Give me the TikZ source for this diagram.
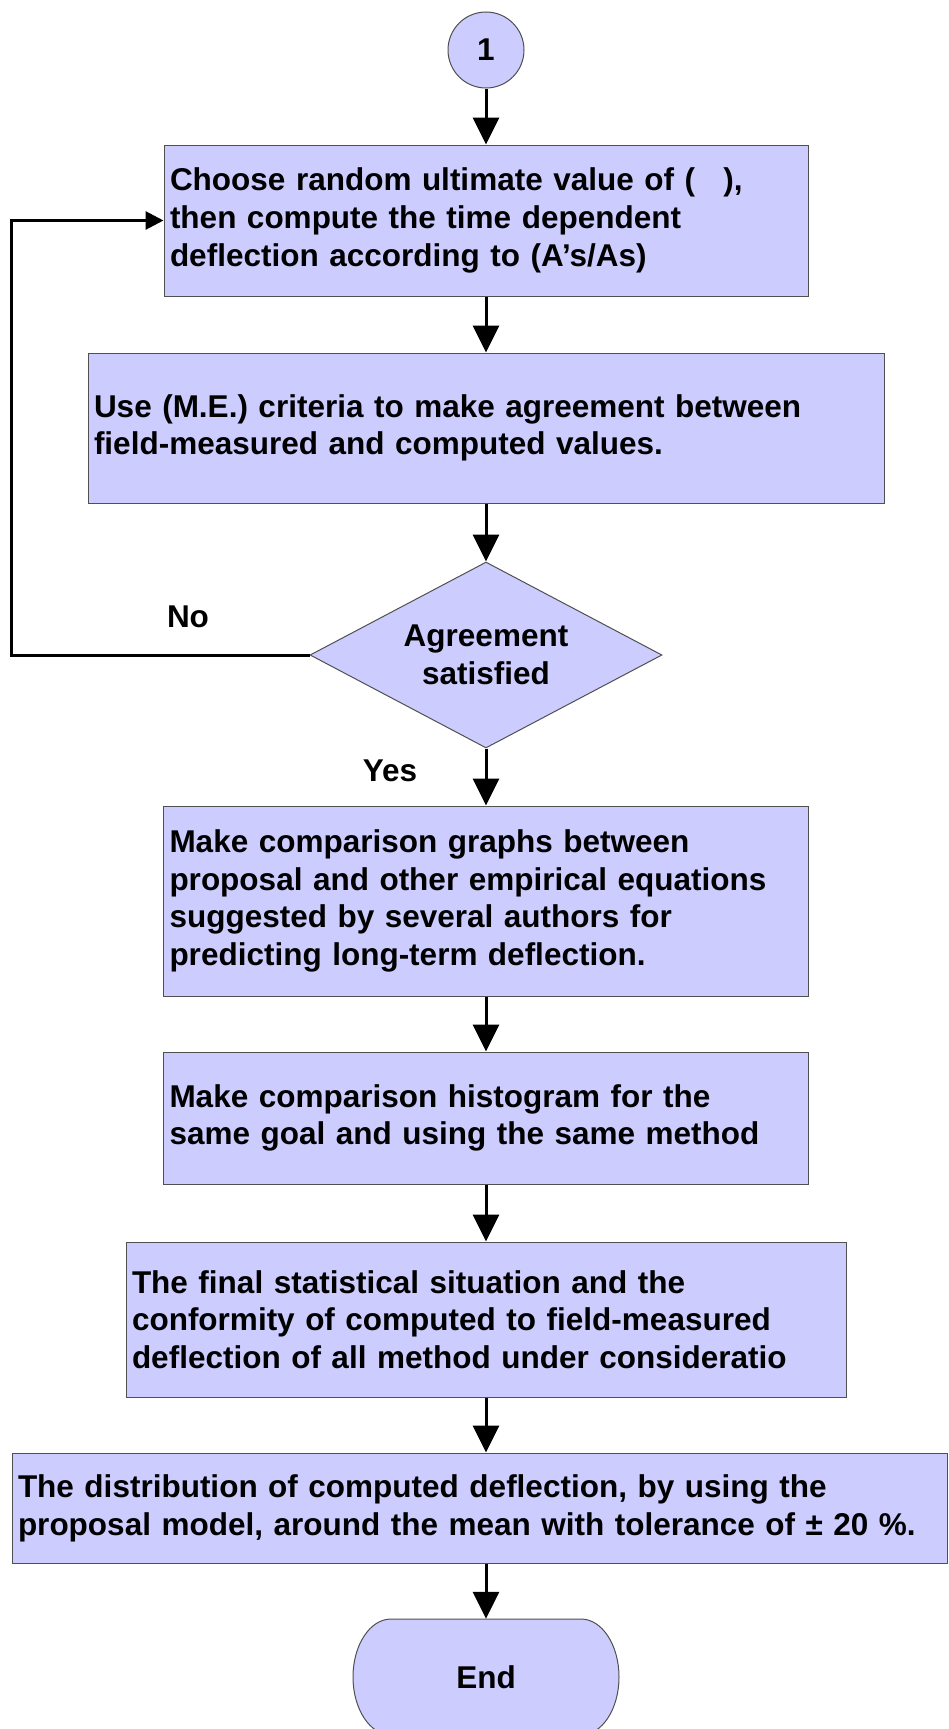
\documentclass[tikz,border=0pt]{standalone}
\usepackage{fontspec}
\setmainfont{Liberation Sans}
\usetikzlibrary{shapes.geometric,arrows.meta}
\definecolor{boxfill}{RGB}{204,204,255}
\definecolor{boxline}{RGB}{80,80,80}
\tikzset{
  every node/.style={font=\fontsize{31.5pt}{37.7pt}\selectfont\bfseries},
  stepbox/.style={rectangle, draw=boxline, line width=1pt, fill=boxfill,
    inner xsep=6pt, inner ysep=0pt, align=left},
  decision/.style={diamond, aspect=1.9, draw=boxline, line width=1pt, fill=boxfill,
    minimum width=352pt, minimum height=186pt, inner sep=0pt, align=center},
  joint/.style={circle, draw=boxline, line width=1pt, fill=boxfill,
    minimum size=76pt, inner sep=0pt},
  flow/.style={line width=3pt, -{Triangle[length=27pt,width=26pt]}},
  backflow/.style={line width=3pt, -{Triangle[length=18pt,width=18pt]}}
}
\begin{document}
\begin{tikzpicture}[x=1pt,y=1pt]
\useasboundingbox (0,0) rectangle (948,-1729);

\node[joint] (one) at (486,-50) {1};

\node[stepbox, text width=632pt, minimum height=151pt] (choose) at (486,-220.5)
  {Choose random ultimate value of (\hspace{0.9em}),\\then compute the time dependent\\deflection according to (A’s/As)};

\node[stepbox, text width=784pt, minimum height=150pt] (crit) at (486,-428)
  {Use (M.E.) criteria to make agreement between\\field-measured and computed values.};

\node[decision] (check) at (486,-655) {Agreement\\satisfied};
\node (no) at (188,-617) {No};
\node (yes) at (390,-771) {Yes};

\node[stepbox, text width=633pt, minimum height=190pt] (graphs) at (486,-901)
  {Make comparison graphs between\\proposal and other empirical equations\\suggested by several authors for\\predicting long-term deflection.};

\node[stepbox, text width=633pt, minimum height=132pt] (histo) at (486,-1118)
  {Make comparison histogram for the\\same goal and using the same method};

\node[stepbox, text width=708pt, minimum height=155pt] (final) at (486,-1319.5)
  {The final statistical situation and the\\conformity of computed to field-measured\\deflection of all method under consideratio};

\node[stepbox, text width=923pt, minimum height=110pt] (distr) at (479.5,-1508)
  {The distribution of computed deflection, by using the\\proposal model, around the mean with tolerance of ± 20 \%.};

\filldraw[fill=boxfill, draw=boxline, line width=1pt] (391,-1619) -- (581,-1619)
  arc[start angle=90, end angle=-90, x radius=38pt, y radius=58pt] -- (391,-1735)
  arc[start angle=270, end angle=90, x radius=38pt, y radius=58pt] -- cycle;
\node[minimum width=266pt, minimum height=116pt, inner sep=0pt] (stop) at (486,-1677) {End};

\draw[flow] (one) -- (choose);
\draw[flow] (choose) -- (crit);
\draw[flow] (crit) -- (check);
\draw[flow] (check) -- (graphs);
\draw[flow] (graphs) -- (histo);
\draw[flow] (histo) -- (final);
\draw[flow] (final.south) -- (final.south |- distr.north);
\draw[flow] (distr.south -| stop.north) -- (stop.north);
\draw[backflow] (check.west) -- (11,-655) |- (choose.west);
\end{tikzpicture}
\end{document}
